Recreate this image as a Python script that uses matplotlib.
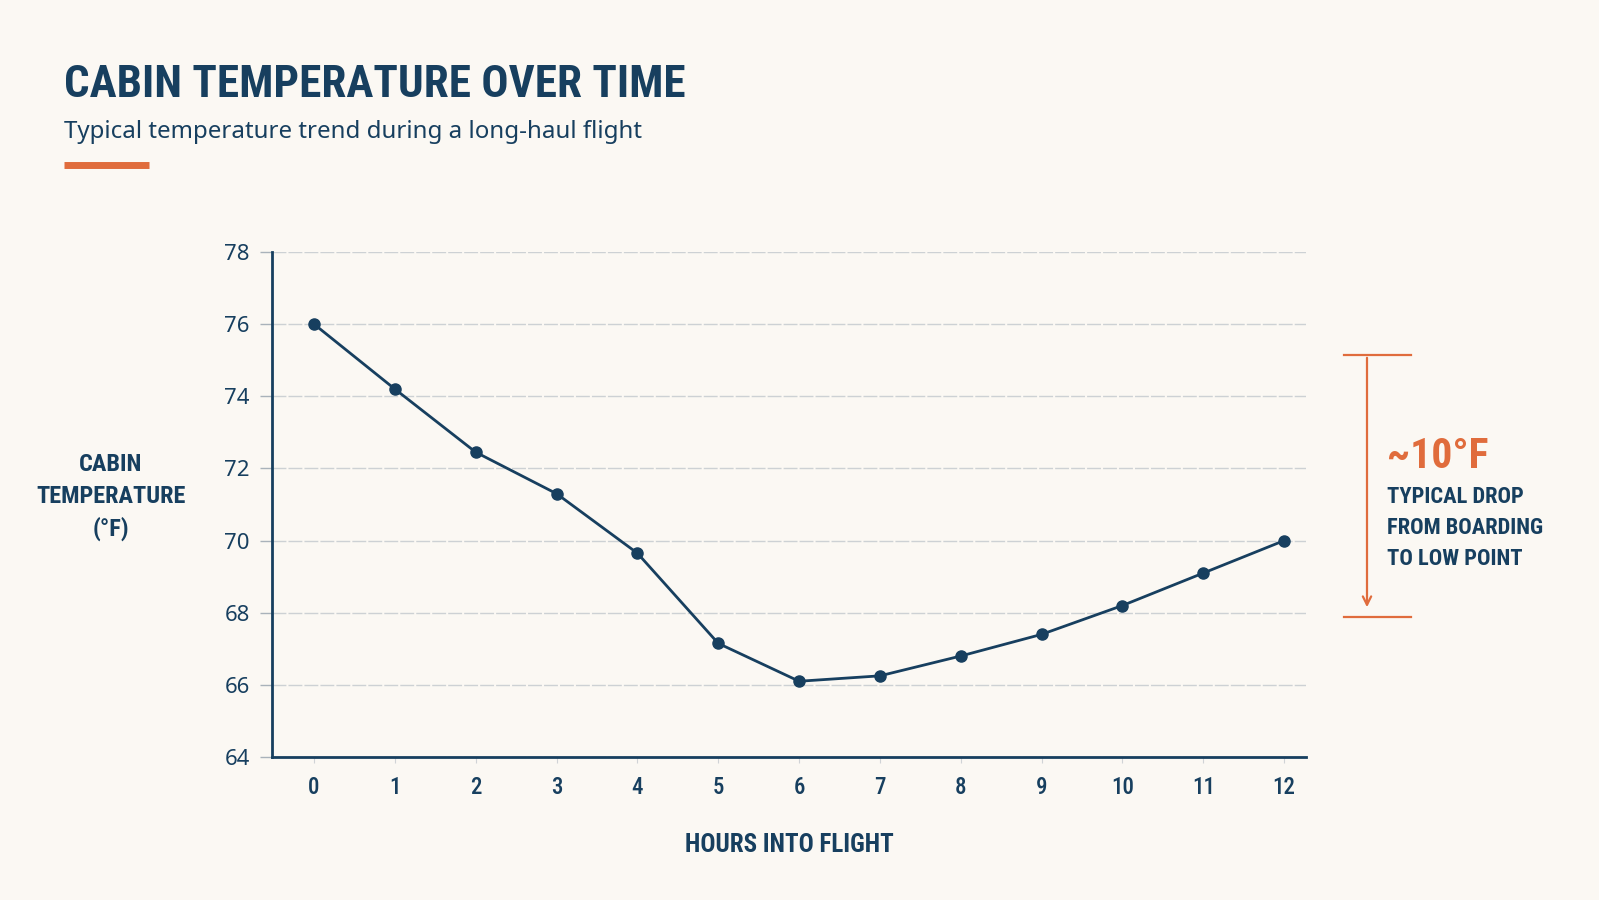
import matplotlib
matplotlib.use("Agg")
import matplotlib.pyplot as plt
from matplotlib import font_manager as fm

hours = list(range(13))
temps = [76.0, 74.2, 72.45, 71.3, 69.65, 67.15, 66.1, 66.25, 66.8, 67.4, 68.2, 69.1, 70.0]
yticks = [64, 66, 68, 70, 72, 74, 76, 78]

title = "CABIN TEMPERATURE OVER TIME"
subtitle = "Typical temperature trend during a long-haul flight"
ylabel = "CABIN\nTEMPERATURE\n(°F)"
xlabel = "HOURS INTO FLIGHT"
callout_big = "~10°F"
callout_text = "TYPICAL DROP\nFROM BOARDING\nTO LOW POINT"

names = {f.name for f in fm.fontManager.ttflist}
def pick(cands):
    for c in cands:
        if c in names:
            return c
    return "DejaVu Sans"

COND = pick(["Roboto Condensed", "Liberation Sans Narrow", "DejaVu Sans Condensed", "Roboto"])
REG = pick(["Noto Sans", "Open Sans", "DejaVu Sans"])

BG = "#fbf8f3"
NAVY = "#173f5f"
ORANGE = "#e06c3c"
GRID = "#cdd1d4"

fig = plt.figure(figsize=(15.99, 9.0), dpi=100, facecolor=BG)
W, H = 1599, 900
def fx(px): return px / W
def fy(py): return 1 - py / H

ax = fig.add_axes([fx(272), fy(757), (1306 - 272) / W, (757 - 252) / H])
ax.set_facecolor(BG)
ax.plot(hours, temps, color=NAVY, lw=2.0, marker="o", ms=8, mfc=NAVY, mec=NAVY, zorder=3)
ax.set_xlim(-0.52, 12.27)
ax.set_ylim(64, 78)
ax.set_yticks(yticks)
ax.set_xticks(hours)
for s in ["top", "right"]:
    ax.spines[s].set_visible(False)
for s in ["left", "bottom"]:
    ax.spines[s].set_color(NAVY)
    ax.spines[s].set_linewidth(2.0)
ax.grid(axis="y", color=GRID, lw=1.0, ls=(0, (10, 1.5)), zorder=0)
ax.tick_params(axis="y", length=9, width=1.0, color="#a9b2ba", pad=7, labelsize=16, labelcolor=NAVY)
ax.tick_params(axis="x", length=4, width=0.8, color="#d0d3d6", pad=10, labelsize=16.5, labelcolor=NAVY)
for lab in ax.get_yticklabels():
    lab.set_fontfamily(REG)
    lab.set_fontweight("medium")
for lab in ax.get_xticklabels():
    lab.set_fontfamily(COND)
    lab.set_fontweight("medium")

fig.text(fx(64), fy(85), title, fontsize=32.5, fontweight="bold", color=NAVY,
         family=COND, va="center", ha="left")
fig.text(fx(64), fy(132), subtitle, fontsize=17.3, color=NAVY, family=REG,
         va="center", ha="left")
fig.add_artist(plt.Line2D([fx(64), fx(149)], [fy(165), fy(165)], color=ORANGE, lw=5,
                          solid_capstyle="butt"))

fig.text(fx(111), fy(497), ylabel, fontsize=17.5, fontweight="bold", color=NAVY, family=COND,
         ha="center", va="center", linespacing=1.5)
fig.text(fx(789), fy(845), xlabel, fontsize=18, fontweight="bold", color=NAVY, family=COND,
         ha="center", va="center")

# callout bracket
fig.add_artist(plt.Line2D([fx(1344), fx(1411)], [fy(355), fy(355)], color=ORANGE, lw=1.6))
fig.add_artist(plt.Line2D([fx(1344), fx(1411)], [fy(617), fy(617)], color=ORANGE, lw=1.6))
fig.add_artist(matplotlib.patches.FancyArrowPatch((fx(1367), fy(355)), (fx(1367), fy(610)),
               transform=fig.transFigure, arrowstyle="->,head_length=6,head_width=3",
               color=ORANGE, lw=1.6, mutation_scale=1))
fig.text(fx(1387), fy(457), callout_big, fontsize=30, fontweight="bold", color=ORANGE,
         family=COND, ha="left", va="center")
fig.text(fx(1387), fy(528), callout_text, fontsize=16.2, fontweight="bold", color=NAVY,
         family=COND, ha="left", va="center", linespacing=1.55)

fig.savefig("out.png", dpi=100, facecolor=BG)
